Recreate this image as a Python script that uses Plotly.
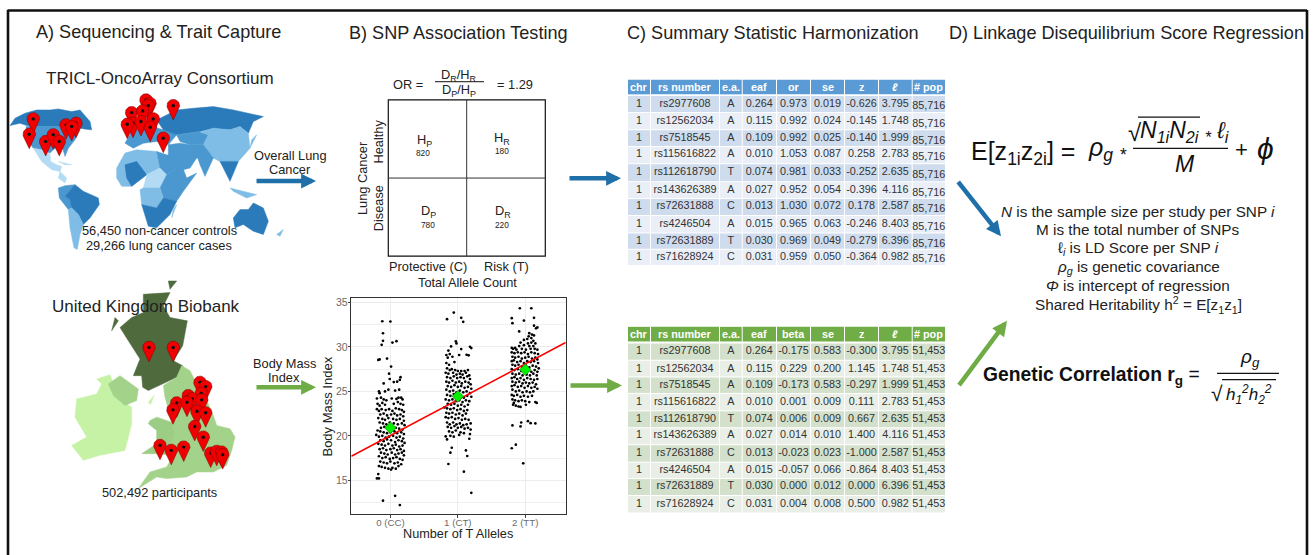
import math
import plotly.graph_objects as go

FONT = "Liberation Sans"
TXT = "#222222"

# ---------- data: jitter plot (x = alleles + jitter, y = BMI) ----------
cc_points = [(-.12,32.9),(0,32.87),(-.11,31.55),(-.11,30.7),(-.13,30.25),(.03,30.5),(.09,30.65),(-.18,28.55),(-.16,28.6),(-.05,28.7),
(.01,27.8),(-.02,27),(-.01,26.4),(.15,26.6),(-.1,25.9),(.05,26.05),(.1,26.1),(.14,26.3),(-.17,25),(-.16,24.8),(-.08,25),(-.03,25.2),(.07,25.1),(.13,25.2),
(-.2,24.2),(-.14,24.3),(-.1,24.1),(-.06,24),(.02,24.2),(.09,24.15),(.12,24.3),(.16,24.3),(.18,24.1),(-.19,23.6),(-.12,23.7),(-.16,23.4),(-.08,23.5),(.05,23.6),(.11,23.8),(.15,23.6),(.19,23.5),
(-.2,23),(-.17,22.8),(-.13,23),(-.07,22.9),(-.02,23),(.03,22.8),(.08,23.1),(.13,23),(.17,22.9),(.2,22.7),(-.15,22.4),(-.1,22.5),(-.05,22.3),(.01,22.4),(.06,22.5),(.1,22.3),(.15,22.4),(.19,22.2),
(-.18,22),(-.12,21.9),(-.08,21.8),(-.03,22),(.04,21.9),(.09,21.8),(.14,21.9),(.2,21.7),(-.16,21.5),(-.11,21.4),(-.06,21.3),(-.01,21.5),(.05,21.4),(.11,21.3),(.17,21.4),(.21,21.2),
(-.14,20.9),(-.09,21),(-.04,20.8),(.03,20.7),(.08,20.9),(.13,20.8),(.18,20.7),(-.19,20.6),(-.15,20.5),(-.1,20.4),(-.05,20.3),(0,20.4),(.06,20.5),(.1,20.3),(.16,20.4),(.2,20.2),
(-.21,20.1),(-.17,19.9),(-.12,20),(-.07,19.8),(-.02,19.9),(.04,20),(.09,19.8),(.14,19.9),(.19,19.7),(-.15,19.5),(-.1,19.4),(-.05,19.6),(.01,19.5),(.07,19.3),(.12,19.5),(.17,19.4),(.21,19.2),
(-.18,19.1),(-.13,19),(-.08,18.9),(-.03,19.1),(.03,18.9),(.08,19),(.13,18.8),(.18,18.9),(-.16,18.5),(-.11,18.6),(-.06,18.4),(0,18.5),(.05,18.6),(.1,18.4),(.15,18.5),(.2,18.3),
(-.14,18.1),(-.09,18),(-.04,17.9),(.02,18.1),(.07,17.9),(.12,18),(.17,18.1),(.2,17.8),(-.17,17.7),(-.12,17.5),(-.07,17.6),(-.01,17.4),(.04,17.5),(.09,17.6),(.14,17.4),(.18,17.3),
(-.15,17.1),(-.1,17),(-.05,16.9),(0,17.1),(.06,16.9),(.11,17),(.16,16.8),(-.17,16.6),(-.13,16.5),(-.08,16.4),(-.03,16.3),(.01,16.2),(.03,16.4),(.08,16.3),(.12,16.6),(-.18,15.7),(-.2,15.2),(-.17,15.2),
(-.11,12.7),(.07,13.25),(.14,12.2)]
ct_points = [(-.06,33.88),(-.16,33.13),(.05,33.28),(.08,32.83),(-.03,30.63),(-.02,30.4),(.18,30.03),(.2,29.88),(-.1,30.06),(.05,29.77),(-.14,29.6),(-.17,29.1),(.13,29.13),(.16,29.06),(-.12,29.2),
(-.15,28.8),(-.08,28.9),(.02,29.1),(-.17,28.2),(-.13,28),(-.05,28.3),(-.16,27.6),(-.12,27.4),(-.09,27.5),(-.04,27.4),(0,27.3),(.05,27.3),(.1,27.3),(.15,27.4),(-.18,27.1),(-.14,27),(-.07,27.1),(-.02,26.9),(.03,27),(.07,26.9),(.12,27.1),(.17,26.8),
(-.16,26.6),(-.11,26.5),(-.06,26.7),(-.01,26.5),(.04,26.6),(.09,26.5),(.14,26.7),(.18,26.4),(-.17,26.1),(-.13,26),(-.08,26.2),(-.03,26),(.02,26.1),(.06,25.9),(.11,26.1),(.16,26),(.19,25.8),
(-.15,25.6),(-.1,25.5),(-.05,25.7),(0,25.5),(.05,25.6),(.1,25.4),(.15,25.5),(.2,25.3),(-.17,25.2),(-.12,25),(-.07,25.1),(-.02,24.9),(.03,25.1),(.08,24.9),(.13,25),(.18,24.8),
(-.16,24.6),(-.11,24.5),(-.06,24.7),(-.01,24.4),(.04,24.5),(.09,24.3),(.14,24.5),(.2,24.4),(-.18,24.1),(-.13,24),(-.08,24.1),(-.03,23.9),(.02,24),(.07,23.8),(.12,24),(.17,23.9),
(-.15,23.6),(-.1,23.5),(-.05,23.6),(0,23.4),(.05,23.5),(.1,23.3),(.15,23.5),(-.2,23.2),(-.16,23.1),(-.11,23),(-.06,23.1),(-.01,22.9),(.04,23),(.09,22.8),(.14,22.9),
(-.17,22.6),(-.13,22.5),(-.08,22.6),(-.03,22.4),(.02,22.5),(.07,22.3),(.12,22.5),(-.18,22.1),(-.14,22),(-.09,22.1),(-.04,21.9),(.01,22),(.06,21.8),(.11,21.9),(.16,21.8),
(-.16,21.5),(-.12,21.3),(-.07,21.5),(-.02,21.3),(.03,21.4),(.08,21.2),(.13,21.3),(.19,21.4),(-.15,21),(-.1,20.9),(-.05,21.1),(0,20.9),(.05,21),(.1,20.8),(.15,20.9),(.19,20.7),
(-.13,20.5),(-.08,20.4),(-.03,20.6),(.04,20.4),(.09,20.3),(.18,20.2),(-.11,20),(-.06,19.9),(.02,20.1),
(-.14,16.83),(.09,15.97),(.2,13.58),(.14,17.73),(.12,18.36),(-.09,18.66),(-.11,18.1),(.17,19.67),(-.16,19.6),(-.18,19.93)]
tt_points = [(-.08,34.36),(.09,34.36),(-.2,33.24),(.13,33.28),(-.19,32.68),(-.02,32.98),(.13,32.4),(.18,32.2),(-.09,31.75),(.06,31.56),
(.16,32.1),(.1,31.4),(.05,31.2),(.13,31.3),(.09,31),(-.02,30.8),(.03,30.9),(.12,30.7),(-.07,30.5),(.04,30.4),(.09,30.5),(.15,30.4),(-.09,30.1),(-.02,30.2),(.06,30.1),(.12,30.1),
(-.2,29.9),(-.18,29.8),(-.15,29.9),(-.13,29.7),(-.05,29.8),(.01,29.7),(.08,29.8),(.14,29.8),(.18,29.7),(-.2,29.4),(-.16,29.3),(-.11,29.4),(-.06,29.3),(-.01,29.4),(.04,29.2),(.09,29.4),(.14,29.3),(.19,29.2),
(-.19,28.9),(-.15,28.8),(-.1,28.9),(-.05,28.7),(0,28.8),(.05,28.9),(.1,28.7),(.15,28.8),(.18,28.6),(-.2,28.4),(-.17,28.5),(-.12,28.3),(-.07,28.4),(-.02,28.2),(.03,28.4),(.08,28.3),(.13,28.4),(.19,28.2),
(-.19,28),(-.15,27.9),(-.1,28),(-.05,27.8),(.01,27.9),(.06,27.7),(.11,27.9),(.16,27.8),(.2,27.6),(-.2,27.5),(-.16,27.4),(-.11,27.5),(-.06,27.3),(-.01,27.4),(.04,27.3),(.09,27.2),(.14,27.4),(.18,27.2),
(-.19,27),(-.14,26.9),(-.09,27),(-.04,26.8),(.02,26.9),(.07,26.8),(.12,27),(.17,26.8),(-.2,26.5),(-.16,26.6),(-.12,26.4),(-.07,26.5),(-.02,26.3),(.03,26.5),(.08,26.4),(.13,26.3),(.18,26.4),
(-.19,26.1),(-.14,26),(-.09,26.1),(-.04,25.9),(.01,26),(.06,25.9),(.11,26),(.16,25.8),(-.2,25.6),(-.16,25.7),(-.11,25.5),(-.06,25.6),(-.01,25.4),(.04,25.6),(.09,25.4),(.14,25.5),(.18,25.3),
(-.19,25.2),(-.14,25),(-.09,25.1),(-.04,24.9),(.02,25),(.07,24.9),(.12,25),(-.2,24.6),(-.17,24.5),(-.12,24.6),(-.07,24.4),(-.02,24.5),(.04,24.4),(.1,24.5),(-.19,24.1),(-.15,24),(-.1,23.9),(-.05,24),(0,23.9),(.06,23.8),(.15,23.8),(.17,23.7),
(-.18,23.5),(-.14,23.4),(-.1,23.3),(-.07,23.25),(-.17,23.7),(.01,23.5),
(-.19,21.17),(-.06,21.5),(-.07,21.06),(.04,21.65),(.08,21.43),(.15,21.4),(-.2,18.6),(-.14,19),(-.03,16.9)]
allele_levels = [0, 1, 2]
allele_labels = ["0 (CC)", "1 (CT)", "2 (TT)"]
group_means = [20.9, 24.45, 27.45]
fit_x = [-0.58, 2.6]
fit_y = [17.69, 30.5]

# ---------- data: tables ----------
rs_numbers = ["rs2977608","rs12562034","rs7518545","rs115616822","rs112618790","rs143626389","rs72631888","rs4246504","rs72631889","rs71628924"]
effect_allele = ["A","A","A","A","T","A","C","A","T","C"]
eaf = ["0.264","0.115","0.109","0.010","0.074","0.027","0.013","0.015","0.030","0.031"]
ld_score = ["3.795","1.748","1.999","2.783","2.635","4.116","2.587","8.403","6.396","0.982"]
top_or = ["0.973","0.992","0.992","1.053","0.981","0.952","1.030","0.965","0.969","0.959"]
top_se = ["0.019","0.024","0.025","0.087","0.033","0.054","0.072","0.063","0.049","0.050"]
top_z = ["-0.626","-0.145","-0.140","0.258","-0.252","-0.396","0.178","-0.246","-0.279","-0.364"]
bot_beta = ["-0.175","0.229","-0.173","0.001","0.006","0.014","-0.023","-0.057","0.000","0.004"]
bot_se = ["0.583","0.200","0.583","0.009","0.009","0.010","0.023","0.066","0.012","0.008"]
bot_z = ["-0.300","1.145","-0.297","0.111","0.667","1.400","-1.000","-0.864","0.000","0.500"]
top_header = ["chr","rs number","e.a.","eaf","or","se","z","<i>ℓ</i>","# pop"]
bot_header = ["chr","rs number","e.a.","eaf","beta","se","z","<i>ℓ</i>","# pop"]
col_edges = [(628,650),(651,719),(720,741.7),(742.7,776),(777,810),(811,844),(845,878),(879,911.7),(912.7,945)]
top_row_y = [102.3,119.7,136.7,153.3,171.3,189.3,205.3,223.3,240.3,256]
bot_row_y = [350.7,368.3,384.3,401.3,419.3,435.3,453.3,470.3,486.3,504.3]

# ---------- data: map outlines (traced at 3x) and pin locations (canvas units) ----------
WD, WM, WL, WP = "#2b7bba", "#4a98cf", "#7fbde6", "#b3dcf4"
world = [
 (WD,[(30,372),(45,350),(75,335),(110,325),(150,325),(175,322),(215,330),(240,325),(270,360),(275,385),(258,383),(240,380),(225,390),(210,383),(190,375),(100,375),(80,372),(60,365)]),
 (WM,[(78,375),(190,375),(210,385),(225,392),(240,385),(225,415),(205,440),(195,465),(188,440),(165,440),(150,455),(125,445),(100,440),(85,420)]),
 (WP,[(100,440),(125,445),(150,458),(152,480),(170,490),(185,495),(180,510),(155,505),(125,480),(108,455)]),
 (WP,[(180,510),(200,530),(195,545),(175,530)]),
 (WP,[(175,480),(215,490),(195,490)]),
 (WM,[(175,560),(195,553),(225,550),(195,585),(210,595),(215,620),(205,625),(178,590)]),
 (WD,[(225,550),(250,570),(295,590),(298,610),(270,650),(250,670),(235,640),(215,620),(210,595),(195,585)]),
 (WL,[(205,625),(215,620),(235,640),(250,670),(240,700),(232,745),(222,740),(210,680)]),
 (WL,[(350,500),(375,455),(410,445),(470,450),(480,500),(440,520),(395,555),(365,555),(350,530)]),
 (WM,[(470,450),(530,470),(545,490),(500,520),(480,520),(480,500)]),
 (WD,[(375,490),(410,480),(440,520),(395,555),(380,530)]),
 (WP,[(440,520),(480,500),(500,520),(480,560),(430,560)]),
 (WM,[(500,520),(545,490),(560,530),(590,515),(550,570),(530,600),(490,590),(480,560)]),
 (WL,[(420,565),(430,560),(480,560),(490,590),(470,620),(425,610)]),
 (WD,[(490,590),(530,600),(510,640),(470,680),(445,675),(425,610),(470,620)]),
 (WL,[(520,625),(530,610),(515,650)]),
 (WM,[(375,425),(395,390),(440,370),(490,385),(530,400),(505,430),(470,420),(430,425),(400,440)]),
 (WD,[(470,355),(500,340),(530,325),(580,320),(640,315),(700,325),(790,345),(760,360),(745,395),(720,375),(690,385),(640,380),(600,390),(560,395),(530,400),(490,385)]),
 (WM,[(530,400),(600,390),(625,400),(610,430),(570,430),(540,420)]),
 (WL,[(600,392),(640,380),(690,385),(720,375),(745,395),(750,440),(715,480),(660,480),(640,470),(610,430),(625,400)]),
 (WM,[(505,430),(540,425),(570,430),(610,430),(640,470),(590,470),(570,500),(530,510),(505,470)]),
 (WM,[(590,460),(640,470),(615,525),(600,490)]),
 (WD,[(660,480),(715,480),(690,540),(670,500)]),
 (WL,[(690,560),(770,580),(740,590),(700,570)]),
 (WL,[(755,415),(770,400),(750,440)]),
 (WD,[(700,650),(720,625),(745,625),(760,605),(790,620),(805,660),(790,700),(760,690),(730,670),(705,680)]),
 (WL,[(830,700),(850,685),(840,705)]),
]
UD, UE, UW, UI = "#4f6b3e", "#a3d38a", "#9ccd85", "#c6f2a6"
uk = [
 (UD,[(430,40),(510,35),(490,75),(510,110),(562,120),(548,195),(520,240),(548,255),(530,290),(490,310),(445,330),(428,320),(425,285),(400,285),(420,235),(385,180),(360,140),(395,110),(430,95)]),
 (UD,[(335,150),(345,110),(355,120)]),
 (UD,[(505,0),(530,0),(510,25)]),
 (UE,[(545,255),(570,270),(590,310),(625,370),(640,405),(650,435),(690,445),(705,470),(695,510),(680,555),(640,575),(590,575),(560,590),(500,595),(470,590),(415,625),(450,575),(500,560),(520,525),(510,500),(525,460),(515,425),(495,350),(490,315),(530,290)]),
 (UW,[(450,420),(470,410),(515,425),(525,460),(510,500),(515,525),(470,520),(425,520),(470,490),(470,450),(445,430)]),
 (UI,[(290,295),(330,282),(345,320),(340,345),(395,380),(395,430),(375,510),(300,525),(250,540),(215,495),(260,470),(225,410),(230,355),(290,340),(305,310)]),
 (UE,[(325,310),(360,285),(415,325),(410,360),(375,375),(340,345)]),
 (UI,[(445,365),(462,345),(452,372)]),
]
world_pins = [(33.3,117.3),(29.3,132.7),(45.7,140),(53.3,133.3),(59.3,140),(66,123.3),(76,121.7),(71.7,125),(146,98.3),(150,101.7),(148.3,104),(131.7,111),(142.7,109.3),(153.3,117.3),(133,121.7),(141,120),(127.3,122.7),(150.3,125.7),(163.3,136.7),(173.3,104)]
uk_pins = [(149,346.7),(173.3,346.7),(200,381.7),(205.7,386),(201.3,392.7),(188.3,395),(192.3,398.3),(201.7,399.3),(176.7,402.3),(187,401.7),(173,409.3),(197,410.7),(205.7,412.3),(194.7,426),(203.3,436.7),(160,445),(171.3,450),(183.7,446.7),(210.7,452.7),(216.7,451),(221.7,451.7),(222.7,454.3)]

# ---------- layout helpers ----------
fig = go.Figure()
annotations, shapes = [], []

def T(x, y, s, size=12.8, color=TXT, anchor="center", angle=0):
    annotations.append(dict(x=x - (2 if anchor == "left" else 0), y=y, xref="x", yref="y", text=s, showarrow=False, xanchor=anchor, yanchor="middle",
                            textangle=angle, font=dict(family=FONT, size=size, color=color)))

def L(x0, y0, x1, y1, color="#111111", w=1.2):
    shapes.append(dict(type="line", xref="x", yref="y", x0=x0, y0=y0, x1=x1, y1=y1, line=dict(color=color, width=w)))

def A(x0, y0, x1, y1, color):
    annotations.append(dict(x=x1, y=y1, ax=x0, ay=y0, xref="x", yref="y", axref="x", ayref="y", text="", showarrow=True,
                            arrowhead=2, arrowsize=0.66, arrowwidth=4.5, arrowcolor=color))

def polygons(items, dy=0):
    for color, pts in items:
        xs = [p[0]/3 for p in pts] + [pts[0][0]/3]
        ys = [p[1]/3 + dy for p in pts] + [pts[0][1]/3 + dy]
        fig.add_trace(go.Scatter(x=xs, y=ys, mode="lines", fill="toself", fillcolor=color, line=dict(color=color, width=0.5),
                                 hoverinfo="skip", showlegend=False, xaxis="x", yaxis="y"))

def pins(items):
    r, tip = 6.3, 14.5
    start = math.asin(r / tip)
    for cx, cy in items:
        xs, ys = [cx], [cy + tip]
        for k in range(25):
            a = start - k*(math.pi + 2*start)/24
            xs.append(cx + r*math.cos(a)); ys.append(cy + r*math.sin(a))
        xs.append(cx); ys.append(cy + tip)
        fig.add_trace(go.Scatter(x=xs, y=ys, mode="lines", fill="toself", fillcolor="#f00000", line=dict(color="#7a0000", width=0.5),
                                 hoverinfo="skip", showlegend=False, xaxis="x", yaxis="y"))
        fig.add_trace(go.Scatter(x=[cx], y=[cy], mode="markers", marker=dict(color="#111111", size=3.4),
                                 hoverinfo="skip", showlegend=False, xaxis="x", yaxis="y"))

def table(header, columns, row_y, head_y, head_col, dark, light, pop_dy):
    for j, (c0, c1) in enumerate(col_edges):
        shapes.append(dict(type="rect", xref="x", yref="y", x0=c0, x1=c1, y0=head_y[0], y1=head_y[1], fillcolor=head_col, line_width=0, layer="below"))
        T((c0+c1)/2, sum(head_y)/2, "<b>%s</b>" % header[j], 10.8, "#ffffff")
    edges = [row_y[0]-8.5] + [(a+b)/2 for a, b in zip(row_y, row_y[1:])] + [row_y[-1]+8.5]
    for i, y in enumerate(row_y):
        for (c0, c1) in col_edges:
            shapes.append(dict(type="rect", xref="x", yref="y", x0=c0, x1=c1, y0=edges[i]+0.5, y1=edges[i+1]-0.5,
                               fillcolor=dark if i % 2 == 0 else light, line_width=0, layer="below"))
    for j, col in enumerate(columns):
        cx = [(col_edges[j][0]+col_edges[j][1])/2]*len(col)
        cy = [y + (pop_dy if j == 8 else 0) for y in row_y]
        fig.add_trace(go.Scatter(x=cx, y=cy, mode="text", text=col, textposition="middle center", hoverinfo="skip", showlegend=False,
                                 textfont=dict(family=FONT, size=10.8, color="#333333"), xaxis="x", yaxis="y"))

# ---------- frame ----------
L(7.5, 8.5, 1307, 8.5, "#111111", 2.6)
L(8, 8, 8, 555, "#111111", 2.6)
L(1307, 8, 1307, 555, "#111111", 2.6)

# ---------- panel titles ----------
T(36, 30, "A) Sequencing & Trait Capture", 18.1, anchor="left")
T(349, 31, "B) SNP Association Testing", 18.1, anchor="left")
T(627, 31, "C) Summary Statistic Harmonization", 18.1, anchor="left")
T(949, 31, "D) Linkage Disequilibrium Score Regression", 18.1, anchor="left")

# ---------- panel A ----------
polygons(world); pins(world_pins)
polygons(uk, 280); pins(uk_pins)
T(160, 77, "TRICL-OncoArray Consortium", 17)
T(290, 154, "Overall Lung"); T(290, 168, "Cancer")
T(159, 229, "56,450 non-cancer controls"); T(159, 244, "29,266 lung cancer cases")
T(146, 306, "United Kingdom Biobank", 17)
T(284, 363, "Body Mass"); T(284, 377, "Index")
T(159, 492, "502,492 participants")
A(255, 179.7, 316, 179.7, "#1f6fa9"); A(255, 386.7, 316, 386.7, "#6fac46")

# ---------- panel B: contingency box ----------
shapes.append(dict(type="rect", xref="x", yref="y", x0=388.3, x1=545.3, y0=98.3, y1=255, line=dict(color="#111111", width=1.2)))
L(466.7, 98.3, 466.7, 255, "#333333", 1); L(388.3, 176.7, 545.3, 176.7, "#333333", 1)
T(408, 83, "OR ="); T(459, 74, "D<sub>R</sub>/H<sub>R</sub>"); L(435, 80, 484, 80, "#111111", 1)
T(459, 89, "D<sub>P</sub>/H<sub>P</sub>"); T(515, 83, "= 1.29")
T(424, 139, "H<sub>P</sub>"); T(423, 152, "820", 8.3)
T(502, 137, "H<sub>R</sub>"); T(502, 150, "180", 8.3)
T(428, 210, "D<sub>P</sub>"); T(428, 224, "780", 8.3)
T(503, 210, "D<sub>R</sub>"); T(502, 224, "220", 8.3)
T(362, 176.7, "Lung Cancer", angle=-90); T(378, 140, "Healthy", angle=-90); T(378, 207, "Disease", angle=-90)
T(428, 265, "Protective (C)"); T(506, 265, "Risk (T)"); T(467, 282, "Total Allele Count")

# ---------- panel B: jitter plot with own axes ----------
offsets = {0: cc_points, 1: ct_points, 2: tt_points}
for lvl, pts in offsets.items():
    fig.add_trace(go.Scatter(x=[lvl + p[0] for p in pts], y=[p[1] for p in pts], mode="markers", marker=dict(color="#000000", size=2.7),
                             hoverinfo="skip", showlegend=False, xaxis="x2", yaxis="y2"))
fig.add_trace(go.Scatter(x=fit_x, y=fit_y, mode="lines", line=dict(color="#ff0000", width=1.6), hoverinfo="skip", showlegend=False, xaxis="x2", yaxis="y2"))
fig.add_trace(go.Scatter(x=allele_levels, y=group_means, mode="markers", marker=dict(color="#00f000", size=9, symbol="diamond", line=dict(color="#1a5a1a", width=0.5)),
                         hoverinfo="skip", showlegend=False, xaxis="x2", yaxis="y2"))
T(328, 406, "Body Mass Index", 13, angle=-90)
T(458, 534, "Number of T Alleles", 12.7)

# ---------- panel C ----------
A(568, 177, 621, 177, "#1f6fa9"); A(569, 385, 622, 385, "#6fac46")
chr_col = ["1"]*10
table(top_header, [chr_col, rs_numbers, effect_allele, eaf, top_or, top_se, top_z, ld_score, ["85,716"]*10], top_row_y, (78, 92.7), "#5b9bd5", "#cfdced", "#e9eef7", 2.7)
table(bot_header, [chr_col, rs_numbers, effect_allele, eaf, bot_beta, bot_se, bot_z, ld_score, ["51,453"]*10], bot_row_y, (326, 340.7), "#70ad47", "#d3e0cb", "#e9efe6", 0)

# ---------- panel D ----------
T(971, 152, "E[z<sub>1i</sub>z<sub>2i</sub>] =", 25, "#111111", "left")
T(1088, 148, "<i>ρ<sub>g</sub></i> <sub>*</sub>", 25, "#111111", "left")
T(1128, 131, "√", 24, "#111111", "left")
T(1140, 130, "<i>N<sub>1i</sub>N<sub>2i</sub> <sub>*</sub> ℓ<sub>i</sub></i>", 23, "#111111", "left")
L(1138, 115.5, 1200, 115.5, "#111111", 1.2)
L(1133, 147, 1228, 147, "#111111", 1.2)
T(1185, 163, "<i>M</i>", 23, "#111111")
T(1235, 148, "+", 22, "#111111", "left"); T(1257, 147, "<i>ϕ</i>", 30, "#111111", "left")
A(957, 179, 1001, 235, "#1f6fa9"); A(958, 386, 1007, 320, "#6fac46")
expl_lines = ["<i>N</i> is the sample size per study per SNP <i>i</i>", "M is the total number of SNPs", "ℓ<sub><i>i</i></sub> is LD Score per SNP <i>i</i>",
              "<i>ρ<sub>g</sub></i> is genetic covariance", "<i>Φ</i> is intercept of regression", "Shared Heritability h<sup>2</sup> = E[z<sub>1</sub>z<sub>1</sub>]"]
expl_y = [210, 228.7, 247.3, 266, 285, 304]
for s, y in zip(expl_lines, expl_y):
    T(1138, y, s, 15.3)
T(983, 375, "<b>Genetic Correlation r<sub>g</sub></b> =", 19.3, "#111111", "left")
T(1250, 357, "<i>ρ<sub>g</sub></i>", 19, "#111111")
L(1217, 372.7, 1279, 372.7, "#111111", 1.2)
T(1211, 393, "√", 21, "#111111", "left")
T(1249, 394, "<i>h<sub>1</sub><sup>2</sup>h<sub>2</sub><sup>2</sup></i>", 17, "#111111")
L(1222, 379, 1276, 379, "#111111", 1.1)

fig.update_layout(
    width=1314, height=555, margin=dict(l=0, r=0, t=0, b=0), paper_bgcolor="white", plot_bgcolor="rgba(0,0,0,0)", showlegend=False,
    annotations=annotations, shapes=shapes, font=dict(family=FONT),
    xaxis=dict(range=[0, 1314], visible=False, fixedrange=True),
    yaxis=dict(range=[555, 0], visible=False, fixedrange=True),
    xaxis2=dict(domain=[351.3/1314, 565.7/1314], anchor="y2", range=[-0.58, 2.6], tickvals=allele_levels, ticktext=allele_labels,
                tickfont=dict(size=9.7, color="#6b6b6b"), ticks="outside", ticklen=2.5, tickcolor="#444444", showgrid=True, gridcolor="#ececec", gridwidth=1,
                zeroline=False, showline=True, linecolor="#333333", linewidth=1, mirror=True, ticklabelstandoff=-4),
    yaxis2=dict(domain=[1-514.3/555, 1-297.3/555], anchor="x2", range=[11.15, 35.49], tickvals=[15, 20, 25, 30, 35],
                tickfont=dict(size=10.5, color="#6b6b6b"), ticks="outside", ticklen=2.5, tickcolor="#444444", showgrid=True, gridcolor="#ececec", gridwidth=1,
                minor=dict(dtick=2.5, tick0=0, showgrid=True, gridcolor="#f0f0f0", gridwidth=1, ticks=""),
                zeroline=False, showline=True, linecolor="#333333", linewidth=1, mirror=True, ticklabelstandoff=-2),
)
fig.write_html("out.html", config={"displayModeBar": False}, post_script="document.body.style.margin='0';document.documentElement.style.overflow='hidden';")
